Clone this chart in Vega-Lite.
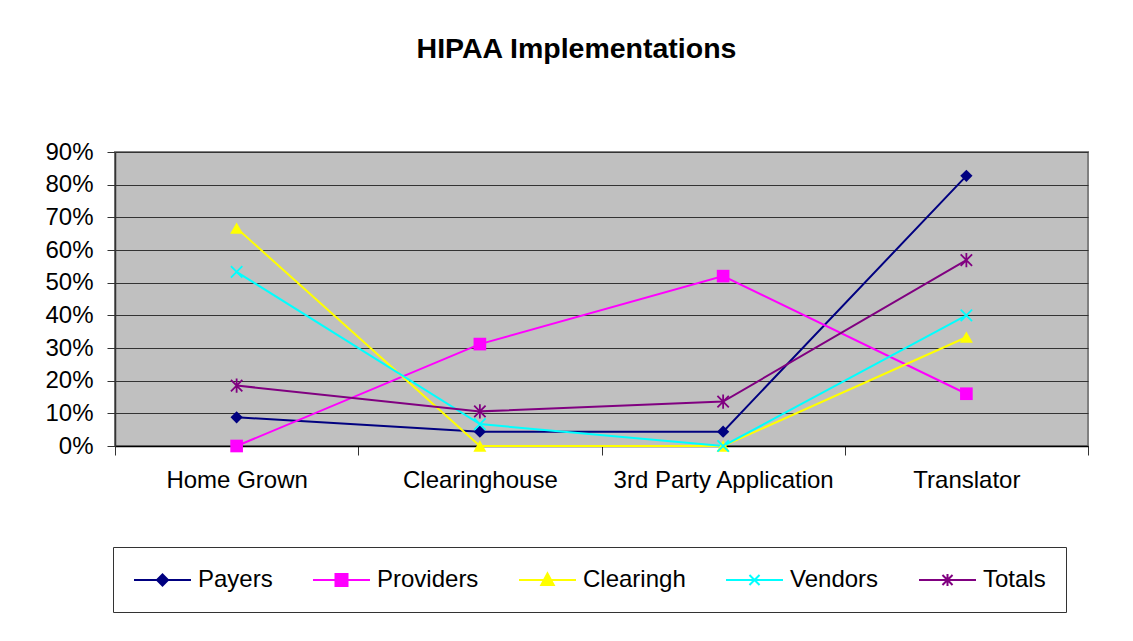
{
  "$schema": "https://vega.github.io/schema/vega-lite/v6.json",
  "width": 973,
  "height": 294,
  "autosize": {"type": "none"},
  "padding": {"left": 115, "top": 152, "right": 45, "bottom": 195},
  "background": "white",
  "title": {
    "text": "HIPAA Implementations",
    "font": "Liberation Sans",
    "fontSize": 28.5,
    "fontWeight": "bold",
    "color": "black",
    "anchor": "middle",
    "dx": -25,
    "baseline": "alphabetic",
    "offset": 54
  },
  "config": {
    "view": {"fill": "#C0C0C0", "stroke": "#808080", "strokeWidth": 2},
    "font": "Liberation Sans",
    "legend": {
      "title": null,
      "orient": "none",
      "legendX": -2,
      "legendY": 395,
      "direction": "horizontal",
      "columns": 5,
      "gridAlign": "each",
      "columnPadding": 36,
      "padding": 20,
      "strokeColor": "#333333",
      "fillColor": "white",
      "labelFontSize": 24,
      "labelFont": "Liberation Sans",
      "labelColor": "black",
      "labelOffset": 22.5,
      "labelLimit": 400,
      "symbolSize": 576,
      "symbolOffset": 16.5,
      "symbolStrokeWidth": 2,
      "symbolOpacity": 1
    }
  },
  "data": {
    "values": [
      {"cat": "Home Grown", "series": "Payers", "value": 0.088},
      {"cat": "Clearinghouse", "series": "Payers", "value": 0.044},
      {"cat": "3rd Party Application", "series": "Payers", "value": 0.044},
      {"cat": "Translator", "series": "Payers", "value": 0.827},
      {"cat": "Home Grown", "series": "Providers", "value": 0.0},
      {"cat": "Clearinghouse", "series": "Providers", "value": 0.312},
      {"cat": "3rd Party Application", "series": "Providers", "value": 0.52},
      {"cat": "Translator", "series": "Providers", "value": 0.16},
      {"cat": "Home Grown", "series": "Clearingh", "value": 0.667},
      {"cat": "Clearinghouse", "series": "Clearingh", "value": 0.0},
      {"cat": "3rd Party Application", "series": "Clearingh", "value": 0.0},
      {"cat": "Translator", "series": "Clearingh", "value": 0.333},
      {"cat": "Home Grown", "series": "Vendors", "value": 0.533},
      {"cat": "Clearinghouse", "series": "Vendors", "value": 0.067},
      {"cat": "3rd Party Application", "series": "Vendors", "value": 0.0},
      {"cat": "Translator", "series": "Vendors", "value": 0.4},
      {"cat": "Home Grown", "series": "Totals", "value": 0.185},
      {"cat": "Clearinghouse", "series": "Totals", "value": 0.106},
      {"cat": "3rd Party Application", "series": "Totals", "value": 0.136},
      {"cat": "Translator", "series": "Totals", "value": 0.569}
    ]
  },
  "encoding": {
    "x": {
      "field": "cat",
      "type": "nominal",
      "sort": ["Home Grown", "Clearinghouse", "3rd Party Application", "Translator"],
      "scale": {"type": "band", "paddingInner": 0, "paddingOuter": 0},
      "axis": {
        "title": null,
        "labelAngle": 0,
        "labelFontSize": 24,
        "labelColor": "black",
        "labelFont": "Liberation Sans",
        "labelPadding": 13,
        "labelLimit": 400,
        "tickBand": "extent",
        "tickSize": 9,
        "tickColor": "#333333",
        "domainColor": "#000000",
        "domainWidth": 1.5,
        "grid": false
      }
    },
    "y": {
      "field": "value",
      "type": "quantitative",
      "scale": {"domain": [0, 0.9], "nice": false, "zero": true},
      "axis": {
        "title": null,
        "values": [0, 0.1, 0.2, 0.3, 0.4, 0.5, 0.6, 0.7, 0.8, 0.9],
        "format": ".0%",
        "labelFontSize": 24,
        "labelColor": "black",
        "labelFont": "Liberation Sans",
        "labelPadding": 14,
        "tickSize": 8,
        "tickColor": "#333333",
        "domainColor": "#333333",
        "domainWidth": 1.5,
        "grid": true,
        "gridColor": "#333333",
        "gridWidth": 1.2
      }
    },
    "color": {
      "field": "series",
      "type": "nominal",
      "scale": {
        "range": ["#FFFF00", "#000080", "#FF00FF", "#800080", "#00FFFF"]
      },
      "legend": null
    }
  },
  "layer": [
    {
      "mark": {"type": "line", "strokeWidth": 2}
    },
    {
      "transform": [{"filter": "datum.series === 'Payers'"}],
      "mark": {"type": "point", "filled": true, "opacity": 1, "shape": "diamond", "size": 150}
    },
    {
      "transform": [{"filter": "datum.series === 'Providers'"}],
      "mark": {"type": "point", "filled": true, "opacity": 1, "shape": "square", "size": 160}
    },
    {
      "transform": [{"filter": "datum.series === 'Clearingh'"}],
      "mark": {"type": "point", "filled": true, "opacity": 1, "shape": "triangle-up", "size": 170}
    },
    {
      "transform": [{"filter": "datum.series === 'Vendors'"}],
      "mark": {"type": "point", "filled": false, "opacity": 1, "shape": "M-1,-1L1,1M-1,1L1,-1", "size": 130, "strokeWidth": 1.8}
    },
    {
      "transform": [{"filter": "datum.series === 'Totals'"}],
      "mark": {"type": "point", "filled": false, "opacity": 1, "shape": "M-1,-1L1,1M-1,1L1,-1M0,-1.25V1.25", "size": 130, "strokeWidth": 1.8}
    },
    {
      "mark": {"type": "point", "filled": true, "opacity": 0},
      "encoding": {
        "color": null,
        "fill": {
          "field": "series",
          "type": "nominal",
          "scale": {
            "domain": ["Payers", "Providers", "Clearingh", "Vendors", "Totals"],
            "range": ["#000080", "#FF00FF", "#FFFF00", "#00FFFF", "#800080"]
          },
          "legend": {"title": null}
        },
        "stroke": {
          "field": "series",
          "type": "nominal",
          "scale": {
            "domain": ["Payers", "Providers", "Clearingh", "Vendors", "Totals"],
            "range": ["#000080", "#FF00FF", "#FFFF00", "#00FFFF", "#800080"]
          },
          "legend": {"title": null}
        },
        "shape": {
          "field": "series",
          "type": "nominal",
          "scale": {
            "domain": ["Payers", "Providers", "Clearingh", "Vendors", "Totals"],
            "range": [
              "M-2.375,0H2.375M-0.46,0L0,-0.46L0.46,0L0,0.46Z",
              "M-2.375,0H2.375M-0.5,-0.5H0.5V0.5H-0.5Z",
              "M-2.375,0H2.375M0,-0.55L0.52,0.42L-0.52,0.42Z",
              "M-2.375,0H2.375M-0.42,-0.42L0.42,0.42M-0.42,0.42L0.42,-0.42",
              "M-2.375,0H2.375M-0.42,-0.42L0.42,0.42M-0.42,0.42L0.42,-0.42M0,-0.5V0.5"
            ]
          },
          "legend": {"title": null}
        }
      }
    }
  ]
}
